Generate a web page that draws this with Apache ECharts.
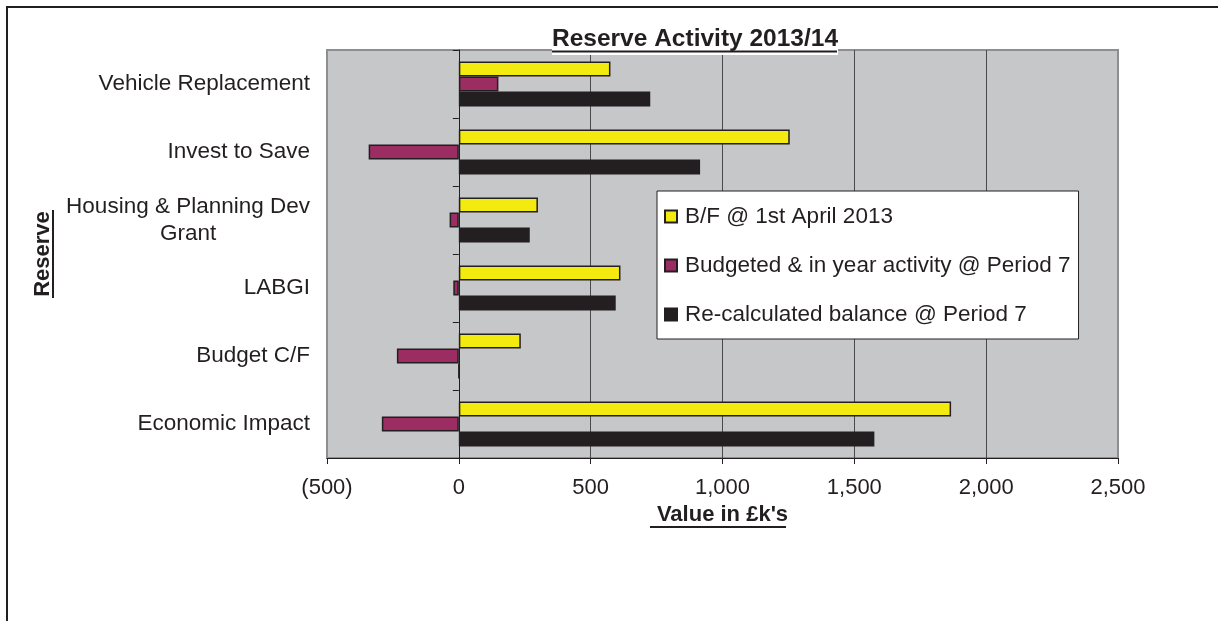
<!DOCTYPE html>
<html>
<head>
<meta charset="utf-8">
<title>Reserve Activity 2013/14</title>
<script src="https://cdn.jsdelivr.net/npm/echarts@6/dist/echarts.min.js"></script>
<style>
html, body { margin: 0; padding: 0; background: #fff; }
#chartDom { width: 1218px; height: 621px; }
</style>
</head>
<body>
<div id="chartDom"></div>
<script>
// values, in £k's
let categories = ["Vehicle Replacement", "Invest to Save", "Housing & Planning Dev\nGrant", "LABGI", "Budget C/F", "Economic Impact"]
let seriesNames = ["B/F @ 1st April 2013", "Budgeted & in year activity @ Period 7", "Re-calculated balance @ Period 7"]
let broughtForward = [575, 1255, 300, 613, 235, 1867]
let inYearActivity = [150, -342, -35, -21, -235, -292]
let recalculated = [726, 915, 269, 595, 0, 1576]
let xTicks = [-500, 0, 500, 1000, 1500, 2000, 2500]

let font = "Liberation Sans, Arial, sans-serif"
let ink = "#231F20"

function money(v) {
  let s = String(Math.abs(v)).replace(/\B(?=(\d{3})+(?!\d))/g, ",")
  return v < 0 ? "(" + s + ")" : s
}

function bar(name, data, color) {
  return {
    name: name,
    type: "bar",
    data: data,
    barWidth: 15,
    barGap: "0%",
    itemStyle: { color: color, borderColor: ink, borderWidth: 1.5 }
  }
}

let myChart = echarts.init(document.getElementById("chartDom"))
myChart.setOption({
  backgroundColor: "#fff",
  animation: false,
  textStyle: { fontFamily: font, color: ink },
  title: {
    text: "Reserve Activity 2013/14",
    left: 552,
    top: 27,
    padding: [0, 0, 3, 0],
    backgroundColor: "#fff",
    textStyle: { fontSize: 24.5, fontWeight: "bold", color: ink, fontFamily: font }
  },
  legend: {
    orient: "vertical",
    left: 657,
    top: 191,
    padding: [14, 8, 13, 7],
    itemWidth: 12,
    itemHeight: 12,
    itemGap: 26,
    icon: "rect",
    backgroundColor: "#fff",
    borderColor: ink,
    borderWidth: 1,
    selectedMode: false,
    textStyle: { fontSize: 22.5, color: ink, fontFamily: font, padding: [0, 0, 0, 3] },
    data: seriesNames
  },
  grid: {
    left: 327,
    right: 100,
    top: 50,
    bottom: 163,
    show: true,
    backgroundColor: "#C6C7C9",
    borderColor: "#8E8E92",
    borderWidth: 2,
    outerBoundsMode: "none"
  },
  xAxis: {
    type: "value",
    min: xTicks[0],
    max: xTicks[xTicks.length - 1],
    interval: xTicks[1] - xTicks[0],
    name: "Value in £k's",
    nameLocation: "middle",
    nameGap: 38,
    nameTextStyle: { fontSize: 22, fontWeight: "bold", color: ink, fontFamily: font },
    axisLine: { show: true, lineStyle: { color: ink, width: 1 } },
    axisTick: { show: true, length: 6, lineStyle: { color: ink } },
    axisLabel: { fontSize: 22, color: ink, margin: 19, formatter: money },
    splitLine: { show: true, showMinLine: false, showMaxLine: false, lineStyle: { color: "#4a4a4a", width: 1 } }
  },
  yAxis: {
    type: "category",
    data: categories,
    inverse: true,
    axisLine: { show: true, onZero: true, lineStyle: { color: ink, width: 1 } },
    axisTick: { show: true, length: 6, lineStyle: { color: ink } },
    axisLabel: {
      fontSize: 22.5,
      color: ink,
      margin: 17,
      lineHeight: 27,
      formatter: function (v) {
        return v.indexOf("\n") >= 0 ? "{c|" + v + "}" : v
      },
      rich: {
        c: { align: "center", fontSize: 22.5, lineHeight: 27, color: ink, fontFamily: font }
      }
    },
    splitLine: { show: false }
  },
  series: [
    bar(seriesNames[0], broughtForward, "#F3EA10"),
    bar(seriesNames[1], inYearActivity, "#9B2D62"),
    bar(seriesNames[2], recalculated, "#231F20")
  ],
  graphic: [
    // outer frame
    { type: "rect", shape: { x: 7, y: 7, width: 1300, height: 700 }, style: { fill: null, stroke: ink, lineWidth: 2 }, silent: true },
    // underlines
    { type: "line", shape: { x1: 552, y1: 51.5, x2: 837, y2: 51.5 }, style: { stroke: ink, lineWidth: 2 }, z: 100 },
    { type: "line", shape: { x1: 650, y1: 527, x2: 786, y2: 527 }, style: { stroke: ink, lineWidth: 2 }, z: 100 },
    { type: "line", shape: { x1: 53, y1: 210, x2: 53, y2: 298 }, style: { stroke: ink, lineWidth: 2 }, z: 100 },
    {
      type: "text",
      x: 43,
      y: 254,
      rotation: Math.PI / 2,
      style: { text: "Reserve", fontSize: 22, fontWeight: "bold", fontFamily: font, fill: ink, align: "center", verticalAlign: "middle" }
    }
  ]
})
</script>
</body>
</html>
